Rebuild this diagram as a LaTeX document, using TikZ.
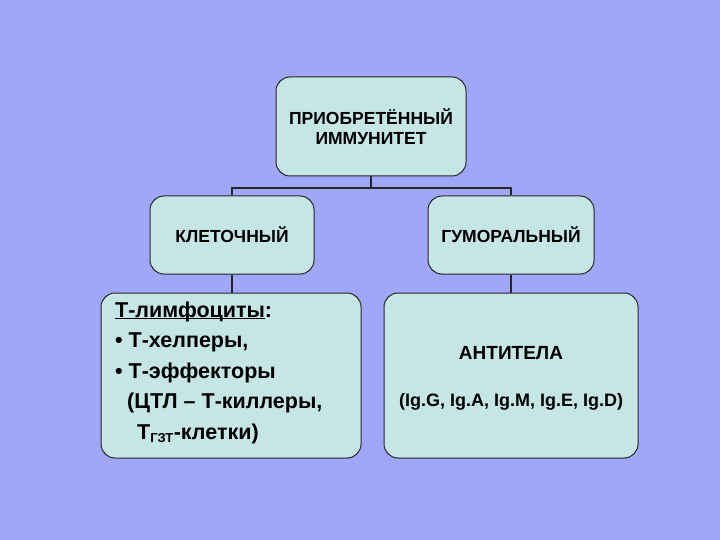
\documentclass[tikz,border=0pt]{standalone}
\usepackage{fontspec}
\setmainfont{Liberation Sans}
\definecolor{bg}{HTML}{A0A6F8}
\definecolor{boxc}{HTML}{C6E6E6}
\newcommand{\myul}[1]{\underline{\smash{#1}}}
\begin{document}
\begin{tikzpicture}[x=1pt,y=-1pt,
  bx/.style={draw=black!85,line width=1pt,fill=boxc,rounded corners=14pt,font=\bfseries},
  ln/.style={line width=1.4pt,black!85}]
\fill[bg] (0,0) rectangle (720,540);
\useasboundingbox (0,0) rectangle (720,540);
\node[bx,minimum width=190pt,minimum height=99pt] (top) at (371,126.5) {};
\node[align=center,font=\bfseries\fontsize{17.5}{20}\selectfont] (tt) at (top) {ПРИОБРЕТЁННЫЙ\\ИММУНИТЕТ};
\node[bx,minimum width=164pt,minimum height=78pt] (kl) at (232,235) {};
\node[font=\bfseries\fontsize{17.5}{20}\selectfont] (klt) at (kl) {КЛЕТОЧНЫЙ};
\node[bx,minimum width=166pt,minimum height=78pt] (gu) at (511,235) {};
\node[font=\bfseries\fontsize{17.5}{20}\selectfont] (gut) at (gu) {ГУМОРАЛЬНЫЙ};
\node[bx,minimum width=260pt,minimum height=165pt] (bl) at (231,375.5) {};
\node[bx,minimum width=254pt,minimum height=165pt] (br) at (511,375.5) {};
\node[anchor=north west,align=left,font=\bfseries\fontsize{21.5}{30.5}\selectfont,inner sep=0pt] (blt) at (115,306)
 {\myul{Т-лимфоциты}:\\
 • Т-хелперы,\\
 • Т-эффекторы\\
 \hspace*{12pt}(ЦТЛ -- Т-киллеры,\\
 \hspace*{22pt}Т$_{\mbox{\fontsize{13}{13}\selectfont\bfseries ГЗТ}}$-клетки)};
\node[font=\bfseries\fontsize{19}{22}\selectfont] (at) at (511,353) {АНТИТЕЛА};
\node[font=\bfseries\fontsize{18}{22}\selectfont] (ig) at (511,402) {(Ig.G, Ig.A, Ig.M, Ig.E, Ig.D)};
\coordinate (j) at (371,188);
\draw[ln] (top.south) -- (j);
\draw[ln] (kl.north) -- (kl.north |- j) -- (gu.north |- j) -- (gu.north);
\draw[ln] (kl.south) -- (bl.north -| kl.south);
\draw[ln] (gu.south) -- (br.north -| gu.south);
\end{tikzpicture}
\end{document}
